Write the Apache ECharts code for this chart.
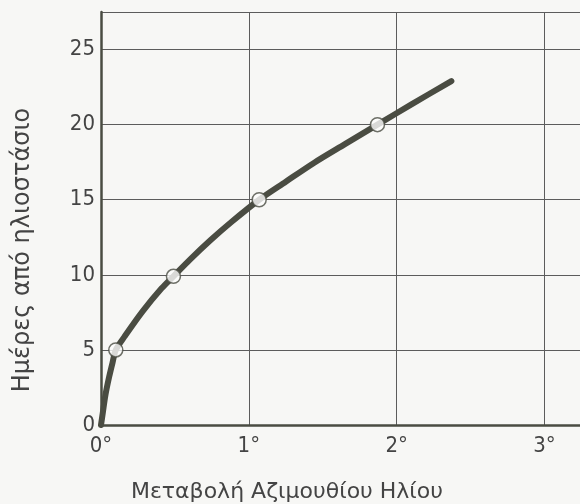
<!DOCTYPE html>
<html><head><meta charset="utf-8">
<script src="https://cdn.jsdelivr.net/npm/echarts@6/dist/echarts.min.js"></script>
<style>html,body{margin:0;padding:0;background:#f7f7f5;}#c{width:580px;height:504px;}</style>
</head><body><div id="c"></div>
<script>
// Curve: azimuth change (degrees) vs days from solstice
const curveX = [0, 0.012, 0.03, 0.055, 0.078, 0.1, 0.16, 0.28, 0.41, 0.49, 0.6, 0.74, 0.88, 1.07, 1.25, 1.44, 1.65, 1.87, 2.1, 2.37];
const curveY = [0, 0.8, 2, 3.2, 4.15, 5, 5.9, 7.55, 9.1, 9.9, 11.0, 12.3, 13.5, 15, 16.2, 17.45, 18.7, 20, 21.35, 22.9];
const markX = [0.1, 0.49, 1.07, 1.87];
const markY = [5, 9.9, 15, 20];
const xTickLabels = ['0°', '1°', '2°', '3°'];
const xTitle = 'Μεταβολή Αζιμουθίου Ηλίου';
const yTitle = 'Ημέρες από ηλιοστάσιο';

const ink = '#4a4c42';
const chart = echarts.init(document.getElementById('c'), null, {renderer: 'canvas'});
chart.setOption({
  backgroundColor: '#f7f7f5',
  animation: false,
  grid: {left: 101, right: 0, top: 12, bottom: 79, containLabel: false},
  xAxis: {
    type: 'value', min: 0, max: 3.24, interval: 1,
    axisLine: {show: true, lineStyle: {color: ink, width: 2.5}},
    axisTick: {show: false},
    splitLine: {show: true, lineStyle: {color: '#5c5c5c', width: 1}},
    axisLabel: {
      showMaxLabel: false, margin: 10, color: '#444',
      fontFamily: 'Liberation Sans Narrow, DejaVu Sans Condensed, sans-serif', fontSize: 22,
      formatter: v => (Math.abs(v - Math.round(v)) < 1e-9 && xTickLabels[Math.round(v)] !== undefined) ? xTickLabels[Math.round(v)] : ''
    }
  },
  yAxis: {
    type: 'value', min: 0, max: 27.5, interval: 5,
    axisLine: {show: true, lineStyle: {color: ink, width: 2.5}},
    axisTick: {show: false},
    splitLine: {show: true, lineStyle: {color: '#5c5c5c', width: 1}},
    axisLabel: {
      showMaxLabel: false, margin: 6, color: '#444',
      fontFamily: 'Liberation Sans Narrow, DejaVu Sans Condensed, sans-serif', fontSize: 22,
      formatter: v => (v % 5 === 0) ? String(v) : ''
    }
  },
  graphic: [
    {type: 'text', left: 131, top: 481, style: {text: xTitle, fill: '#444', font: '22px "DejaVu Sans", sans-serif'}},
    {type: 'text', x: 23, y: 250, rotation: Math.PI / 2,
     style: {text: yTitle, fill: '#444', font: '24px "DejaVu Sans", sans-serif', align: 'center', verticalAlign: 'middle'}}
  ],
  series: [
    {
      type: 'line', smooth: 0.3, showSymbol: false,
      data: curveX.map((x, i) => [x, curveY[i]]),
      lineStyle: {color: ink, width: 6, cap: 'round', join: 'round'},
      z: 3
    },
    {
      type: 'scatter',
      data: markX.map((x, i) => [x, markY[i]]),
      symbol: 'circle', symbolSize: 14,
      itemStyle: {color: '#fcfcfc', borderColor: ink, borderWidth: 1.5},
      z: 4
    }
  ]
});
</script></body></html>
